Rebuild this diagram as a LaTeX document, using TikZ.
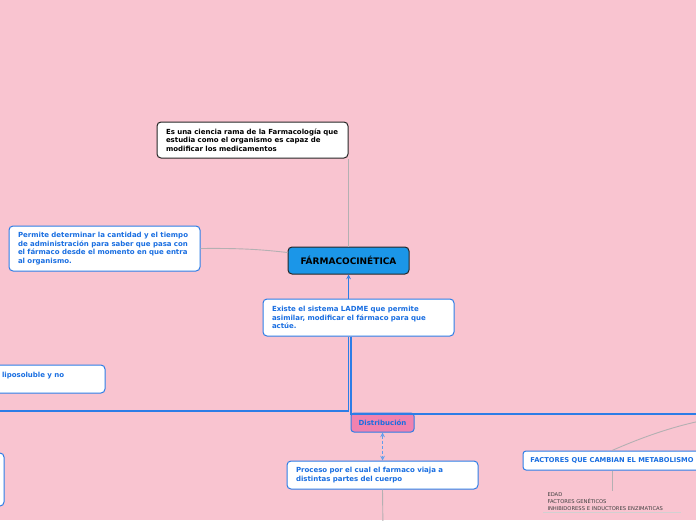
\documentclass[tikz,border=0pt]{standalone}
\usepackage{fontspec}
\setmainfont{DejaVu Sans}
\usepackage{xcolor}
\usepackage{tikz}
\usetikzlibrary{arrows, positioning}

\definecolor{bgpink}{RGB}{249,196,208}
\definecolor{mapblue}{RGB}{45,125,230}
\definecolor{textblue}{RGB}{25,110,225}
\definecolor{topicblue}{RGB}{27,150,232}
\definecolor{distpink}{RGB}{240,130,175}
\definecolor{linegray}{RGB}{180,176,178}

\begin{document}
\begin{tikzpicture}[
  x=1pt, y=-1pt,
  font=\fontsize{7}{8.5}\selectfont\bfseries,
  idea/.style={rectangle, rounded corners=4pt, draw=mapblue, line width=1pt, fill=white, text=textblue, text width=173pt, align=left, inner xsep=9pt, inner ysep=3pt},
  note/.style={idea, draw=black!85, text=black},
  topic/.style={rectangle, rounded corners=4pt, draw=black!85, line width=1pt, fill=topicblue, text=black, font=\fontsize{9}{10}\selectfont\bfseries, minimum width=121pt, minimum height=27pt},
  tag/.style={rectangle, rounded corners=3pt, draw=mapblue, line width=1pt, fill=white, text=textblue, minimum height=19pt, inner xsep=7pt},
  plain/.style={rectangle, font=\fontsize{5.2}{7}\selectfont, text=black!75, text width=129pt, align=left, inner xsep=4pt, inner ysep=2pt},
  graylink/.style={draw=linegray, line width=0.9pt},
  bluelink/.style={draw=mapblue, line width=1.1pt}
]
  \path [use as bounding box, fill=bgpink] (0,0) rectangle (696,520);
  \clip (0,0) rectangle (696,520);

  \node [topic] (central) at (348.5,260.5) {FÁRMACOCINÉTICA};
  \node [idea, minimum height=37pt] (ladme) [below=24pt of central, xshift=10pt] {Existe el sistema LADME que permite\\asimilar, modificar el fármaco para que\\actúe.};
  \node [note, minimum height=36pt] (defn) at (252.5,140) {Es una ciencia rama de la Farmacología que\\estudia como el organismo es capaz de\\modificar los medicamentos};
  \node [idea, minimum height=45pt] (usage) at (104.5,248.5) {Permite determinar la cantidad y el tiempo\\de administración para saber que pasa con\\el fármaco desde el momento en que entra\\al organismo.};
  \node [idea, text width=94pt, minimum height=28pt, text depth=9pt] (lipo) at (49,379) {liposoluble y no};
  \node [idea, minimum height=53pt] (hidden) at (-91.5,479.5) {};
  \node [tag, fill=distpink, minimum width=63pt] (dist) [below=76pt of ladme, xshift=24pt] {Distribución};
  \node [idea, minimum height=28pt] (proc) [below=28pt of dist] {Proceso por el cual el farmaco viaja a\\distintas partes del cuerpo};
  \node [tag, minimum width=178pt, font=\fontsize{6.7}{8}\selectfont\bfseries] (factors) at (612,460.5) {FACTORES QUE CAMBIAN EL METABOLISMO};
  \node [plain] (causes) [below=20pt of factors] {EDAD\\FACTORES GENÉTICOS\\INHIBIDORESS E INDUCTORES ENZIMATICAS};

  \coordinate (westend) at (-5,411);
  \coordinate (eastend) at (705,414);
  \coordinate (southend) at (383,530);
  \coordinate (curveend) at (705,420);

  \draw [graylink] (central.north) -- (central.north |- defn.south);
  \draw [graylink] (usage.east) .. controls (245,248) and (265,250) .. ([yshift=8pt]central.west);
  \draw [bluelink, -stealth] (ladme.north -| central.south) -- (central.south);
  \draw [bluelink] (ladme.south -| central.south) |- (westend);
  \draw [bluelink] ([xshift=2.5pt]ladme.south -| central.south) |- (eastend);
  \draw [bluelink, draw=mapblue!75, densely dashed, stealth-stealth] (dist.south) -- (proc.north);
  \draw [graylink] (proc.south) -- (southend);
  \draw [graylink] (factors.north) .. controls (645,436) and (675,426) .. (curveend);
  \draw [graylink] (factors.south) -- (causes.north);
  \draw [draw=linegray!60, line width=0.6pt] (causes.south west) -- (causes.south east);
\end{tikzpicture}
\end{document}
